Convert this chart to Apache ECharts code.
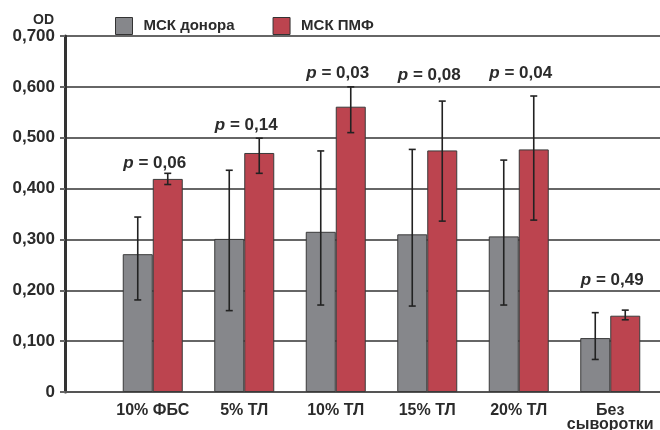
<!DOCTYPE html>
<html><head><meta charset="utf-8">
<script src="https://cdn.jsdelivr.net/npm/echarts@6/dist/echarts.min.js"></script>
<style>html,body{margin:0;padding:0;background:#fff}#c{width:660px;height:430px}</style>
</head><body><div id="c"></div>
<script>
const categories = ['10% ФБС', '5% ТЛ', '10% ТЛ', '15% ТЛ', '20% ТЛ', 'Без\nсыворотки'];
const seriesNames = ['МСК донора', 'МСК ПМФ'];
const donorValues = [0.271, 0.301, 0.315, 0.310, 0.306, 0.106];
const donorLow    = [0.181, 0.160, 0.171, 0.169, 0.171, 0.064];
const donorHigh   = [0.344, 0.436, 0.474, 0.477, 0.456, 0.156];
const pmfValues   = [0.419, 0.470, 0.561, 0.475, 0.477, 0.150];
const pmfLow      = [0.408, 0.430, 0.510, 0.336, 0.338, 0.142];
const pmfHigh     = [0.430, 0.499, 0.600, 0.572, 0.582, 0.161];
const pTexts      = ['0,06', '0,14', '0,03', '0,08', '0,04', '0,49'];
const pLabelY     = [0.450, 0.525, 0.627, 0.623, 0.627, 0.220];
const yTicks      = [0, 0.1, 0.2, 0.3, 0.4, 0.5, 0.6, 0.7];

const FONT = '"Liberation Sans", Arial, sans-serif';
const BAR_W = 30;
const chart = echarts.init(document.getElementById('c'), null, {renderer: 'canvas'});

function errData(low, high) { return categories.map((c, i) => [i, low[i], high[i]]); }
function errRender(offset) {
  return function (params, api) {
    const i = api.value(0);
    const pHi = api.coord([i, api.value(2)]);
    const pLo = api.coord([i, api.value(1)]);
    const x = pHi[0] + offset;
    const st = {stroke: '#222', lineWidth: 1.6};
    return {type: 'group', children: [
      {type: 'line', shape: {x1: x, y1: pHi[1], x2: x, y2: pLo[1]}, style: st},
      {type: 'line', shape: {x1: x - 3.5, y1: pHi[1], x2: x + 3.5, y2: pHi[1]}, style: st},
      {type: 'line', shape: {x1: x - 3.5, y1: pLo[1], x2: x + 3.5, y2: pLo[1]}, style: st}
    ]};
  };
}

const option = {
  animation: false,
  backgroundColor: '#fff',
  grid: [
    {left: 65, right: 0, top: 36, bottom: 38, containLabel: false, outerBoundsMode: 'none'},
    {left: 107, right: 4, top: 36, bottom: 38, containLabel: false, outerBoundsMode: 'none'}
  ],
  legend: {
    left: 110, top: 12, itemWidth: 17, itemHeight: 17, itemGap: 38,
    icon: 'rect',
    data: seriesNames,
    itemStyle: {borderColor: '#333', borderWidth: 1},
    textStyle: {fontFamily: FONT, fontWeight: 'bold', fontSize: 15, color: '#2b2b2b', padding: [0, 0, 0, 6]}
  },
  graphic: [{
    type: 'text', left: 33, top: 13,
    style: {text: 'OD', font: 'bold 14px ' + FONT, fill: '#2b2b2b'}
  }],
  xAxis: [
    {gridIndex: 0, type: 'value', min: 0, max: 1, axisLabel: {show: false}, axisTick: {show: false}, splitLine: {show: false},
     axisLine: {show: true, lineStyle: {color: '#555', width: 2}}},
    {gridIndex: 1, type: 'category', data: categories, axisLine: {show: false}, axisTick: {show: false},
     axisLabel: {fontFamily: FONT, fontWeight: 'bold', fontSize: 16, color: '#2b2b2b', margin: 12, lineHeight: 14, interval: 0}}
  ],
  yAxis: [
    {gridIndex: 0, type: 'value', min: 0, max: 0.7, interval: 0.1,
     axisLine: {show: true, lineStyle: {color: '#333', width: 3}},
     axisTick: {show: true, length: 5, lineStyle: {color: '#666', width: 2}},
     splitLine: {show: true, lineStyle: {color: '#666', width: 2}},
     axisLabel: {fontFamily: FONT, fontWeight: 'bold', fontSize: 17, color: '#2b2b2b', margin: 10, padding: [6, 0, 0, 0],
       formatter: v => v === 0 ? '0' : v.toFixed(3).replace('.', ',')}},
    {gridIndex: 1, type: 'value', min: 0, max: 0.7, interval: 0.1, show: false}
  ],
  series: [
    {name: seriesNames[0], type: 'bar', xAxisIndex: 1, yAxisIndex: 1, data: donorValues, barWidth: BAR_W, barGap: '0%',
     itemStyle: {color: '#86878b', borderColor: '#3a3a3a', borderWidth: 1}},
    {name: seriesNames[1], type: 'bar', xAxisIndex: 1, yAxisIndex: 1, data: pmfValues, barWidth: BAR_W, barGap: '0%',
     itemStyle: {color: '#bc444f', borderColor: '#3a3a3a', borderWidth: 1}},
    {type: 'custom', xAxisIndex: 1, yAxisIndex: 1, data: errData(donorLow, donorHigh), renderItem: errRender(-BAR_W / 2), z: 5},
    {type: 'custom', xAxisIndex: 1, yAxisIndex: 1, data: errData(pmfLow, pmfHigh), renderItem: errRender(BAR_W / 2), z: 5},
    {type: 'custom', xAxisIndex: 1, yAxisIndex: 1, z: 6,
     data: categories.map((c, i) => [i, pLabelY[i]]),
     renderItem: function (params, api) {
       const p = api.coord([api.value(0), api.value(1)]);
       return {type: 'text', x: p[0] + 2, y: p[1],
         style: {text: '{i|p} = ' + pTexts[params.dataIndex], align: 'center', verticalAlign: 'middle',
           fontFamily: FONT, fontWeight: 'bold', fontSize: 17, fill: '#2b2b2b',
           rich: {i: {fontStyle: 'italic', fontFamily: FONT, fontWeight: 'bold', fontSize: 17, fill: '#2b2b2b'}}}};
     }}
  ]
};
chart.setOption(option);
</script></body></html>
